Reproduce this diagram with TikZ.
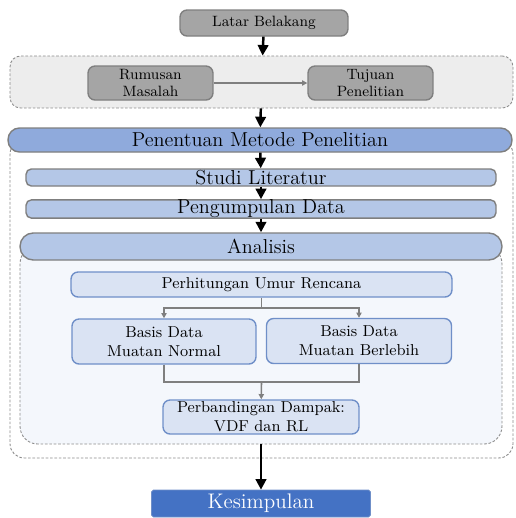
\documentclass[tikz,border=0pt]{standalone}
\usetikzlibrary{arrows.meta}
\definecolor{grayfill}{HTML}{A5A5A5}
\definecolor{grayline}{HTML}{7F7F7F}
\definecolor{framefill}{HTML}{EDEDED}
\definecolor{midblue}{HTML}{8FAADC}
\definecolor{lightblue}{HTML}{B4C7E7}
\definecolor{paleblue}{HTML}{DAE3F3}
\definecolor{innerfill}{HTML}{F4F7FC}
\definecolor{darkblue}{HTML}{4472C4}
\definecolor{edgeblue}{HTML}{6F8FC8}
\begin{document}
\begin{tikzpicture}[x=0.02cm,y=-0.02cm,
                      gray node/.style={rectangle,rounded corners=4pt,fill=grayfill,draw=grayline,
                      line width=0.8pt,inner sep=0pt,font=\fontsize{8.5}{10}\selectfont,align=center},
                      frame/.style={rectangle,draw=black!45,dash pattern=on 1.5pt off 1pt,line width=0.5pt},
                      bar node/.style={rectangle,fill=lightblue,draw=grayline,line width=0.8pt,rounded corners=3pt,
                      inner sep=0pt,font=\fontsize{11.5}{13}\selectfont},
                      round bar/.style={rectangle,draw=grayline,line width=0.8pt,rounded corners=6.5pt,
                      inner sep=0pt,font=\fontsize{11.5}{13}\selectfont},
                      sub node/.style={rectangle,fill=paleblue,draw=edgeblue,line width=0.8pt,rounded corners=4pt,
                      inner sep=0pt,font=\fontsize{9}{11}\selectfont,align=center},
                      big arrow/.style={-{Triangle[length=6pt,width=6pt]},line width=1.4pt},
                      thin arrow/.style={-{Triangle[length=3pt,width=3pt]},draw=grayline,line width=0.9pt}
                     ]
   \useasboundingbox (0,0) rectangle (515,518);
   % frames behind
   \node[frame,fill=framefill,rounded corners=6pt,minimum width=10.06cm,minimum height=1.04cm] (masalah) at (261.5,82) {};
   \node[frame,fill=white,rounded corners=8pt,minimum width=10.06cm,minimum height=6.36cm] (metodebox) at (261.5,299) {};
   \node[frame,fill=innerfill,rounded corners=10pt,minimum width=9.64cm,minimum height=3.96cm] (analisisbox) at (261,345) {};
   % top part
   \node[gray node,minimum width=3.36cm,minimum height=0.52cm] (latar) at (264,23) {Latar Belakang};
   \node[gray node,minimum width=2.5cm,minimum height=0.68cm] (rumusan) at (150.5,83) {Rumusan\\Masalah};
   \node[gray node,minimum width=2.5cm,minimum height=0.68cm] (tujuan) at (370.5,83) {Tujuan\\Penelitian};
   % method
   \node[round bar,fill=midblue,minimum width=10.08cm,minimum height=0.48cm] (metode) at (260,140) {Penentuan Metode Penelitian};
   \node[bar node,minimum width=9.4cm,minimum height=0.34cm] (studi) at (261,177.5) {Studi Literatur};
   \node[bar node,minimum width=9.4cm,minimum height=0.36cm] (data) at (261,209) {Pengumpulan Data};
   \node[round bar,fill=lightblue,rounded corners=7.5pt,minimum width=9.64cm,minimum height=0.54cm] (analisis) at (261,246.5) {Analisis};
   % analysis
   \node[sub node,minimum width=7.62cm,minimum height=0.5cm] (hitung) at (261.5,284.5) {Perhitungan Umur Rencana};
   \node[sub node,minimum width=3.68cm,minimum height=0.9cm] (normal) at (164,341.5) {Basis Data\\Muatan Normal};
   \node[sub node,minimum width=3.7cm,minimum height=0.9cm] (lebih) at (359,341) {Basis Data\\Muatan Berlebih};
   \node[sub node,minimum width=3.92cm,minimum height=0.68cm] (banding) at (261,417) {Perbandingan Dampak:\\VDF dan RL};
   \node[rectangle,fill=darkblue,draw=edgeblue,rounded corners=1pt,text=white,inner sep=0pt,
         minimum width=4.38cm,minimum height=0.54cm,font=\fontsize{12}{14}\selectfont] (kesimpulan) at (261,503.5) {Kesimpulan};
   \coordinate (cabang) at (261.5,308);
   \coordinate (gabung) at (261.5,382);
   \path[big arrow]%
     (latar) edge (masalah)
     (masalah) edge (metode)
     (metode) edge (studi)
     (studi) edge (data)
     (data) edge (analisis)
     (analisisbox) edge (kesimpulan);
   \draw[thin arrow] (rumusan) -- (tujuan);
   \draw[draw=grayline,line width=0.9pt] (hitung) -- (cabang);
   \draw[thin arrow] (cabang) -| (normal);
   \draw[thin arrow] (cabang) -| (lebih);
   \draw[draw=grayline,line width=0.9pt] (normal) |- (gabung) -| (lebih);
   \draw[thin arrow] (gabung) -- (banding);
\end{tikzpicture}
\end{document}
